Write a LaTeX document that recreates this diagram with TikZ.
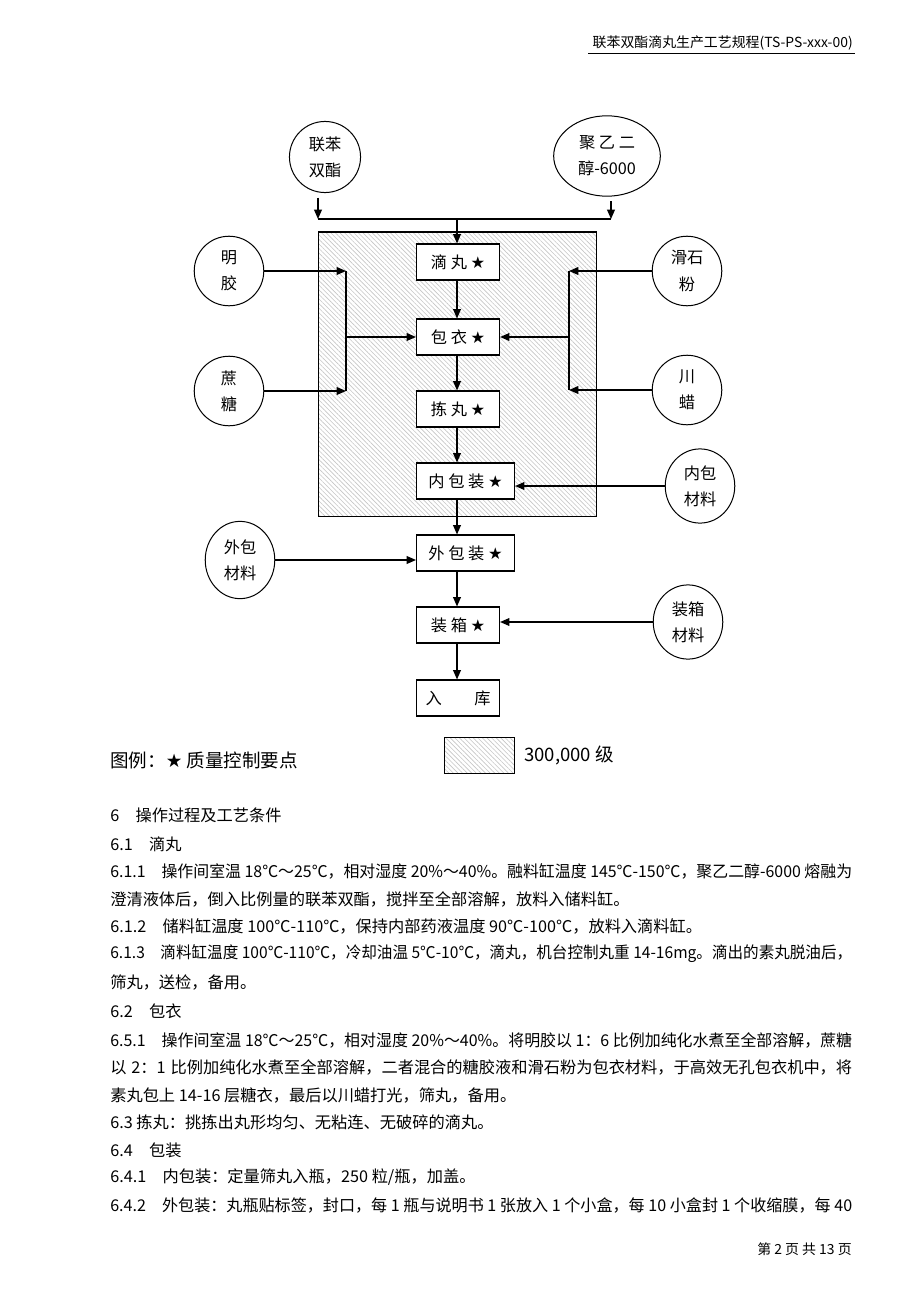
\documentclass[tikz,border=0pt]{standalone}
\usepackage{fontspec}
\usepackage{graphicx}
\setmainfont{Noto Sans CJK SC}
\newfontfamily\symfont{DejaVu Sans}
\usetikzlibrary{arrows.meta,patterns.meta,shapes.geometric}
\XeTeXlinebreaklocale "zh"
\XeTeXlinebreakskip=0pt plus 1pt
\newcommand{\qcstar}{{\symfont ★}}
\newsavebox{\linebox}
\newcommand{\fullline}[1]{\sbox{\linebox}{#1}%
  \ifdim\wd\linebox>480pt \resizebox{480pt}{\height}{\usebox{\linebox}}%
  \else\makebox[480pt][s]{#1}\fi}

\begin{document}
\begin{tikzpicture}[
  x=0.647pt,y=-0.647pt,
  proc/.style={draw,line width=0.7pt,fill=white,minimum width=53.7pt,minimum height=23.3pt,
    inner sep=0pt,anchor=west,font=\fontsize{10.5}{12}\selectfont},
  wideproc/.style={proc,minimum width=63.4pt},
  mat/.style={ellipse,draw,line width=0.65pt,minimum width=45pt,minimum height=45pt,
    inner sep=0pt,align=center,font=\fontsize{10.5}{17}\selectfont},
  flow/.style={line width=0.8pt,-{Triangle[length=6pt,width=5pt]}},
  bus/.style={line width=0.8pt},
  hatch/.style={draw,line width=0.65pt,pattern={Lines[angle=-45,distance=2.1pt,line width=0.4pt]},
    pattern color=gray!45},
  body/.style={anchor=west,inner sep=0pt,font=\fontsize{10.5}{12}\selectfont},
  note/.style={inner sep=0pt,font=\fontsize{9}{10}\selectfont}
]
  \fill[white] (0,0) rectangle (920,1302);
  \useasboundingbox (0,0) rectangle (920,1302);

  % header and footer
  \node[note,anchor=south east] (hdr) at (853,51) {联苯双酯滴丸生产工艺规程(TS-PS-xxx-00)};
  \draw[line width=0.5pt] (588,53) -- (855,53);
  \node[note,anchor=east] (ftr) at (852,1249) {第 2 页 共 13 页};

  % clean area
  \draw[hatch] (318,232) rectangle (596,516);

  % raw materials at top
  \node[mat,minimum width=46pt,minimum height=46pt] (lbsz) at (325,157) {联苯\\双酯};
  \node[mat,minimum width=69pt,minimum height=52pt] (peg) at (607,156) {聚 乙 二\\醇-6000};
  \coordinate (jl) at (318,219);
  \coordinate (jr) at (611,219);
  \coordinate (jm) at (457,219);

  % process steps
  \node[proc] (dw) at (416,262) {滴 丸 \qcstar};
  \node[proc] (by) at (416,337) {包 衣 \qcstar};
  \node[proc] (jw) at (416,409) {拣 丸 \qcstar};
  \node[wideproc] (nbz) at (416,481) {内 包 装 \qcstar};
  \node[wideproc] (wbz) at (416,553) {外 包 装 \qcstar};
  \node[proc] (zx) at (416,625) {装 箱 \qcstar};
  \node[proc] (rk) at (416,698) {入\qquad 库};

  % side materials
  \node[mat] (mj) at (229,271) {明\\胶};
  \node[mat] (zt) at (229,391) {蔗\\糖};
  \node[mat] (hs) at (687,271) {滑石\\粉};
  \node[mat] (cl) at (687,390) {川\\蜡};
  \node[mat,minimum height=48pt] (nbcl) at (700,486) {内包\\材料};
  \node[mat,minimum height=50pt] (wbcl) at (240,560) {外包\\材料};
  \node[mat,minimum height=48pt] (zxcl) at (688,622) {装箱\\材料};
  \coordinate (lt) at (346,271);
  \coordinate (lb) at (346,391);
  \coordinate (rt) at (569,271);
  \coordinate (rb) at (569,390);

  % connectors
  \draw[flow,shorten <=3pt] (lbsz.south -| jl) -- (jl);
  \draw[flow,shorten <=3pt] (peg.south -| jr) -- (jr);
  \draw[bus] (jl) -- (jr);
  \draw[flow] (jm) -- (jm |- dw.north);
  \draw[flow] (jm |- dw.south) -- (jm |- by.north);
  \draw[flow] (jm |- by.south) -- (jm |- jw.north);
  \draw[flow] (jm |- jw.south) -- (jm |- nbz.north);
  \draw[flow] (jm |- nbz.south) -- (jm |- wbz.north);
  \draw[flow] (jm |- wbz.south) -- (jm |- zx.north);
  \draw[flow] (jm |- zx.south) -- (jm |- rk.north);
  \draw[flow] (mj.east) -- (lt);
  \draw[flow] (zt.east) -- (lb);
  \draw[bus] (lt) -- (lb);
  \draw[flow] (lt |- by.west) -- (by.west);
  \draw[flow] (hs.west) -- (rt);
  \draw[flow] (cl.west) -- (rb);
  \draw[bus] (rt) -- (rb);
  \draw[flow] (rt |- by.east) -- (by.east);
  \draw[flow] (nbcl.west) -- (nbcl.west -| nbz.east);
  \draw[flow] (wbcl.east) -- (wbcl.east -| wbz.west);
  \draw[flow] (zxcl.west) -- (zxcl.west -| zx.east);

  % legend
  \node[body,font=\fontsize{12}{14}\selectfont] (lgd) at (110,760) {图例：\qcstar\ 质量控制要点};
  \node[hatch,minimum width=45.3pt,minimum height=23.3pt,inner sep=0pt,anchor=north west] (lgbox) at (444,737) {};
  \node[body,font=\fontsize{12}{14}\selectfont] (lgtxt) at (524,755) {300,000 级};

  % text
  \node[body] (t1) at (110,815) {6\quad 操作过程及工艺条件};
  \node[body] (t2) at (110,844) {6.1\quad 滴丸};
  \node[body] (t3) at (110,871) {\fullline{6.1.1\quad 操作间室温 18℃～25℃，相对湿度 20\%～40\%。融料缸温度 145℃-150℃，聚乙二醇-6000 熔融为}};
  \node[body] (t4) at (110,899) {澄清液体后，倒入比例量的联苯双酯，搅拌至全部溶解，放料入储料缸。};
  \node[body] (t5) at (110,926) {6.1.2\quad 储料缸温度 100℃-110℃，保持内部药液温度 90℃-100℃，放料入滴料缸。};
  \node[body] (t6) at (110,954) {\fullline{6.1.3\quad 滴料缸温度 100℃-110℃，冷却油温 5℃-10℃，滴丸，机台控制丸重 14-16mg。滴出的素丸脱油后，}};
  \node[body] (t7) at (110,982) {筛丸，送检，备用。};
  \node[body] (t8) at (110,1011) {6.2\quad 包衣};
  \node[body] (t9) at (110,1040) {\fullline{6.5.1\quad 操作间室温 18℃～25℃，相对湿度 20\%～40\%。将明胶以 1：6 比例加纯化水煮至全部溶解，蔗糖}};
  \node[body] (t10) at (110,1067) {\fullline{以 2：1 比例加纯化水煮至全部溶解，二者混合的糖胶液和滑石粉为包衣材料，于高效无孔包衣机中，将}};
  \node[body] (t11) at (110,1095) {素丸包上 14-16 层糖衣，最后以川蜡打光，筛丸，备用。};
  \node[body] (t12) at (110,1122) {6.3 拣丸：挑拣出丸形均匀、无粘连、无破碎的滴丸。};
  \node[body] (t13) at (110,1150) {6.4\quad 包装};
  \node[body] (t14) at (110,1177) {6.4.1\quad 内包装：定量筛丸入瓶，250 粒/瓶，加盖。};
  \node[body] (t15) at (110,1205) {\fullline{6.4.2\quad 外包装：丸瓶贴标签，封口，每 1 瓶与说明书 1 张放入 1 个小盒，每 10 小盒封 1 个收缩膜，每 40}};
\end{tikzpicture}
\end{document}
